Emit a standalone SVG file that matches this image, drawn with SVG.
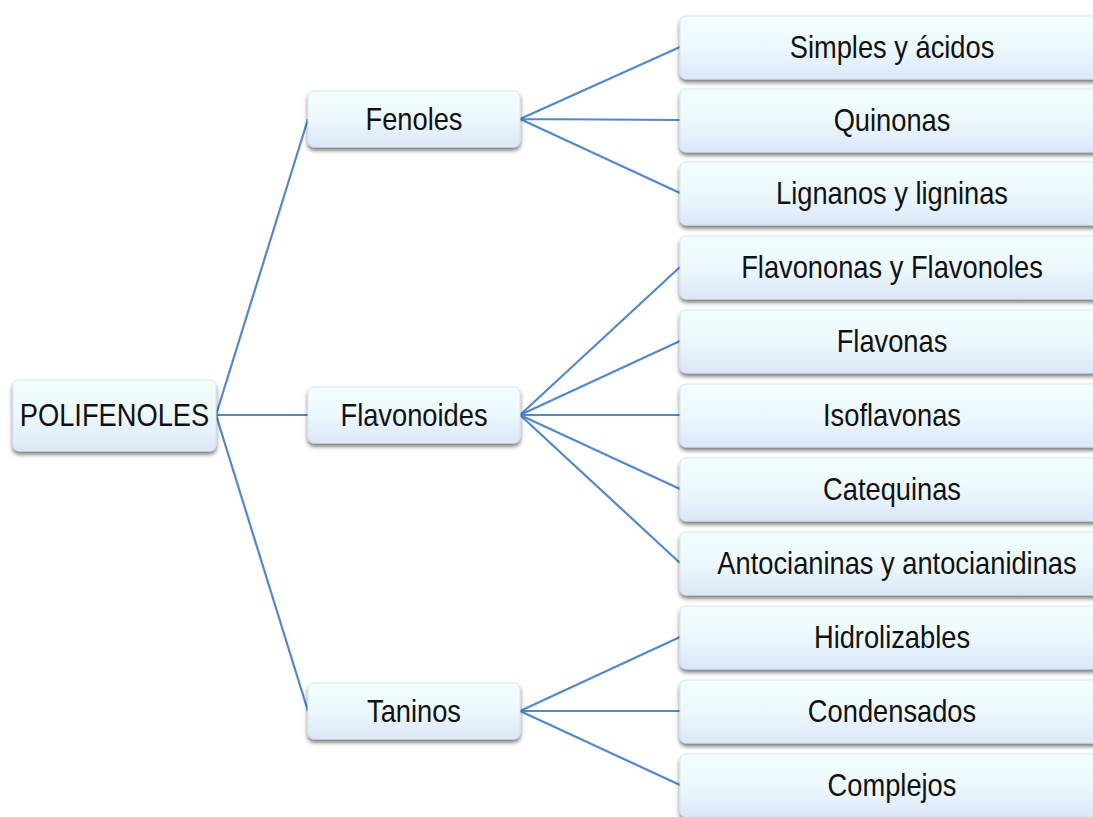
<svg xmlns="http://www.w3.org/2000/svg" width="1093" height="817" viewBox="0 0 1093 817">
<defs>
<linearGradient id="g" x1="0" y1="0" x2="0" y2="1">
<stop offset="0" stop-color="#F3FEFF"/>
<stop offset="0.5" stop-color="#EDF8FD"/>
<stop offset="1" stop-color="#DAE7F8"/>
</linearGradient>
<filter id="sh" x="-10%" y="-20%" width="120%" height="150%">
<feDropShadow dx="0" dy="3" stdDeviation="2" flood-color="#000" flood-opacity="0.55"/>
</filter>
</defs>
<style>
.box{fill:url(#g);stroke:#D5E2EE;stroke-width:0.8;filter:url(#sh)}
.t{font-family:"Liberation Sans",Arial,sans-serif;font-size:31px;fill:#111;text-anchor:middle}
.c{stroke:#5288CC;stroke-width:2.2;fill:none}
</style>
<rect width="1093" height="817" fill="#fff"/>
<g id="connectors">
<path class="c" d="M216,415 L308,119 M216,415 L308,415 M216,415 L308,711"/>
<path class="c" d="M520,119 L680,47 M520,119 L680,120 M520,119 L680,193"/>
<path class="c" d="M520,415 L680,267 M520,415 L680,341 M520,415 L680,415 M520,415 L680,489 M520,415 L680,563"/>
<path class="c" d="M520,711 L680,637 M520,711 L680,711 M520,711 L680,785"/>
</g>
<g id="polifenoles"><rect class="box" x="13" y="380" width="203" height="71" rx="6"/><text class="t" transform="translate(114.5,426) scale(0.88,1)">POLIFENOLES</text></g>
<g id="fenoles"><rect class="box" x="308" y="91" width="212" height="56" rx="6"/><text class="t" transform="translate(414,130) scale(0.88,1)">Fenoles</text></g>
<g id="flavonoides"><rect class="box" x="308" y="387" width="212" height="56" rx="6"/><text class="t" transform="translate(414,426) scale(0.88,1)">Flavonoides</text></g>
<g id="taninos"><rect class="box" x="308" y="683" width="212" height="56" rx="6"/><text class="t" transform="translate(414,722) scale(0.88,1)">Taninos</text></g>
<g id="simples"><rect class="box" x="680" y="16" width="424" height="63" rx="6"/><text class="t" transform="translate(892,58) scale(0.88,1)">Simples y ácidos</text></g>
<g id="quinonas"><rect class="box" x="680" y="89" width="424" height="63" rx="6"/><text class="t" transform="translate(892,131) scale(0.88,1)">Quinonas</text></g>
<g id="lignanos"><rect class="box" x="680" y="162" width="424" height="63" rx="6"/><text class="t" transform="translate(892,204) scale(0.88,1)">Lignanos y ligninas</text></g>
<g id="flavononas"><rect class="box" x="680" y="236" width="424" height="63" rx="6"/><text class="t" transform="translate(892,278) scale(0.88,1)">Flavononas y Flavonoles</text></g>
<g id="flavonas"><rect class="box" x="680" y="310" width="424" height="63" rx="6"/><text class="t" transform="translate(892,352) scale(0.88,1)">Flavonas</text></g>
<g id="isoflavonas"><rect class="box" x="680" y="384" width="424" height="63" rx="6"/><text class="t" transform="translate(892,426) scale(0.88,1)">Isoflavonas</text></g>
<g id="catequinas"><rect class="box" x="680" y="458" width="424" height="63" rx="6"/><text class="t" transform="translate(892,500) scale(0.88,1)">Catequinas</text></g>
<g id="antocianinas"><rect class="box" x="680" y="532" width="424" height="63" rx="6"/><text class="t" transform="translate(897,574) scale(0.88,1)">Antocianinas y antocianidinas</text></g>
<g id="hidrolizables"><rect class="box" x="680" y="606" width="424" height="63" rx="6"/><text class="t" transform="translate(892,648) scale(0.88,1)">Hidrolizables</text></g>
<g id="condensados"><rect class="box" x="680" y="680" width="424" height="63" rx="6"/><text class="t" transform="translate(892,722) scale(0.88,1)">Condensados</text></g>
<g id="complejos"><rect class="box" x="680" y="754" width="424" height="63" rx="6"/><text class="t" transform="translate(892,796) scale(0.88,1)">Complejos</text></g>
</svg>
